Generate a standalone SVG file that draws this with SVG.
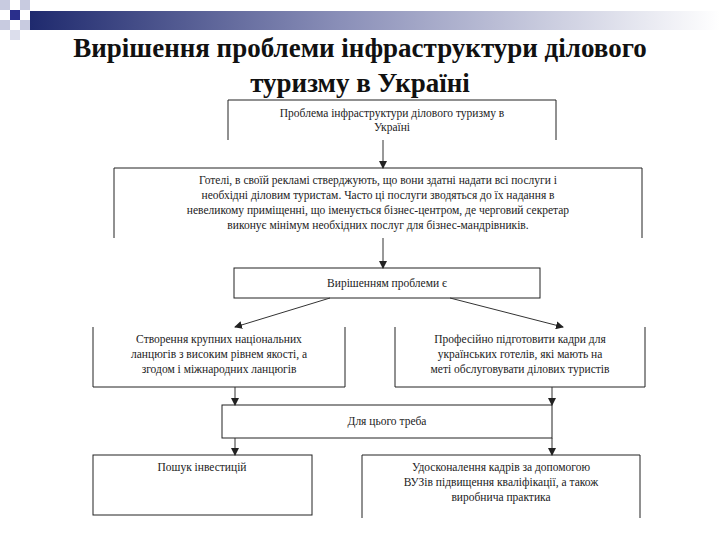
<svg xmlns="http://www.w3.org/2000/svg" width="720" height="540" viewBox="0 0 720 540">
<defs>
<linearGradient id="g" x1="0" x2="1" y1="0" y2="0"><stop offset="0" stop-color="#1f2a6e"/><stop offset="0.45" stop-color="#8a8fb8"/><stop offset="1" stop-color="#ffffff"/></linearGradient>
<marker id="a" markerWidth="8" markerHeight="8" refX="7" refY="4" orient="auto" markerUnits="userSpaceOnUse"><path d="M0,0 L8,4 L0,8 z" fill="#222"/></marker>
<style>
.b{fill:none;stroke:#222;stroke-width:1}
.t{font-family:'Liberation Serif','DejaVu Serif',serif;font-size:11.5px;fill:#222;text-anchor:middle}
.h{font-family:'Liberation Serif','DejaVu Serif',serif;font-weight:bold;font-size:27px;fill:#111;text-anchor:middle}
.c{stroke:#333;stroke-width:1;marker-end:url(#a)}
</style>
</defs>
<rect width="720" height="540" fill="#fff"/>
<g id="header">
<rect x="30" y="11" width="690" height="19" fill="url(#g)"/>
<rect x="0" y="0" width="10" height="10" fill="#c8cbe0"/>
<rect x="20" y="0" width="10" height="10" fill="#c8cbe0"/>
<rect x="10" y="10" width="10" height="10" fill="#2a2f8c"/>
<rect x="0" y="20" width="10" height="10" fill="#c8cbe0"/>
<rect x="20" y="20" width="10" height="10" fill="#c8cbe0"/>
<rect x="10" y="30" width="10" height="10" fill="#dcdeec"/>
</g>
<g id="title">
<text class="h" x="360" y="57">Вирішення проблеми інфраструктури ділового</text>
<text class="h" x="360" y="92">туризму в Україні</text>
</g>
<g id="n1"><path class="b" d="M228,140 V100 H556 V140"/>
<text class="t" x="392" y="117">Проблема інфраструктури ділового туризму в</text><text class="t" x="392" y="131">Україні</text></g>
<g id="n2"><path class="b" d="M114,238 V168 H642 V238"/>
<text class="t" x="378" y="184">Готелі, в своїй рекламі стверджують, що вони здатні надати всі послуги і</text>
<text class="t" x="378" y="199">необхідні діловим туристам. Часто ці послуги зводяться до їх надання в</text>
<text class="t" x="378" y="214">невеликому приміщенні, що іменується бізнес-центром, де черговий секретар</text>
<text class="t" x="378" y="229">виконує мінімум необхідних послуг для бізнес-мандрівників.</text></g>
<g id="n3"><rect class="b" x="234" y="268" width="306" height="30"/>
<text class="t" x="387" y="287">Вирішенням проблеми є</text></g>
<g id="n4"><path class="b" d="M93,327 V387 H345 V327"/>
<text class="t" x="219" y="343">Створення крупних національних</text>
<text class="t" x="219" y="358">ланцюгів з високим рівнем якості, а</text>
<text class="t" x="219" y="373">згодом і міжнародних ланцюгів</text></g>
<g id="n5"><path class="b" d="M395,327 V387 H645 V327"/>
<text class="t" x="520" y="343">Професійно підготовити кадри для</text>
<text class="t" x="520" y="358">українських готелів, які мають на</text>
<text class="t" x="520" y="373">меті обслуговувати ділових туристів</text></g>
<g id="n6"><rect class="b" x="222" y="405" width="330" height="33"/>
<text class="t" x="387" y="425">Для цього треба</text></g>
<g id="n7"><rect class="b" x="93" y="455" width="219" height="60"/>
<text class="t" x="202" y="471">Пошук інвестицій</text></g>
<g id="n8"><path class="b" d="M362,518 V455 H640 V518"/>
<text class="t" x="501" y="471">Удосконалення кадрів за допомогою</text>
<text class="t" x="501" y="486">ВУЗів підвищення кваліфікації, а також</text>
<text class="t" x="501" y="501">виробнича практика</text></g>
<g id="connectors">
<line class="c" x1="383" y1="140" x2="383" y2="168"/>
<line class="c" x1="383" y1="238" x2="383" y2="268"/>
<line class="c" x1="330" y1="298" x2="235" y2="327"/>
<line class="c" x1="450" y1="298" x2="563" y2="327"/>
<line class="c" x1="235" y1="387" x2="235" y2="405"/>
<line class="c" x1="552" y1="387" x2="552" y2="405"/>
<line class="c" x1="235" y1="438" x2="235" y2="455"/>
<line class="c" x1="552" y1="438" x2="552" y2="455"/>
</g>
</svg>
